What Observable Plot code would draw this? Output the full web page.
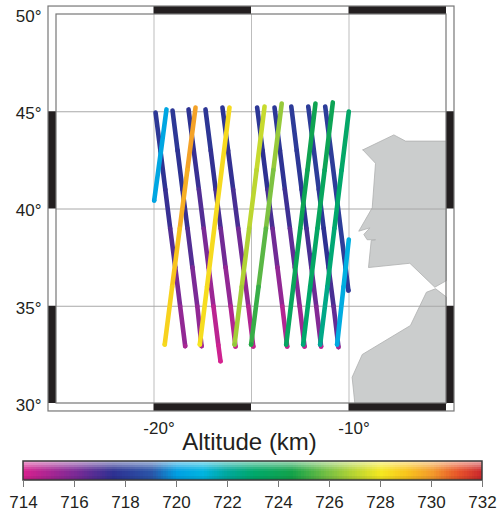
<!DOCTYPE html>
<html><head><meta charset="utf-8">
<script src="https://cdn.jsdelivr.net/npm/d3@7"></script>
<script src="https://cdn.jsdelivr.net/npm/@observablehq/plot@0.6"></script>
<style>html,body{margin:0;padding:0;background:#fff}svg{display:block}</style>
</head><body><div id="chart"></div>
<script>
const colorDomain = [714,716,717.5,719,720,721,722,723,724.5,726,727,728,729,730,731,732];
const colorRange = ["#d6218f","#7b2a96","#2e3192","#2a55a8","#00a0e3","#00b4e0","#00a89a","#00a86b","#13a24a","#7ec242","#bcd631","#f5e820","#f8c41d","#f39a2b","#e8542a","#c9252d"];

const descending = [
 {lon:[-19.92,-19.67,-19.42,-19.17,-18.91,-18.66,-18.40],lat:[44.96,43,41,39,37,35,32.95],alt:[717.8,717.6,717.3,716.8,716,715.5,715]},
 {lon:[-19.05,-18.79,-18.54,-18.28,-18.03,-17.78,-17.56],lat:[45.06,43,41,39,37,35,32.95],alt:[717.8,717.6,717.3,716.8,716,715.5,715]},
 {lon:[-18.23,-17.96,-17.70,-17.45,-17.20,-16.95,-16.70,-16.59],lat:[45.12,43,41,39,37,35,33,32.17],alt:[717.6,717.3,716.8,716,715.3,714.6,714.2,714]},
 {lon:[-17.36,-17.09,-16.84,-16.58,-16.33,-16.07,-15.82],lat:[45.12,43,41,39,37,35,32.93],alt:[717.7,717.4,717,716.2,715.5,714.8,714.3]},
 {lon:[-16.49,-16.20,-15.94,-15.68,-15.42,-15.16,-14.91],lat:[45.22,43,41,39,37,35,32.93],alt:[717.7,717.4,717,716.2,715.5,714.8,714.3]},
 {lon:[-14.71,-14.43,-14.18,-13.92,-13.67,-13.42,-13.17],lat:[45.22,43,41,39,37,35,32.93],alt:[717.8,717.5,717,716.2,715.5,714.8,714.4]},
 {lon:[-13.82,-13.54,-13.29,-13.03,-12.78,-12.53,-12.28],lat:[45.22,43,41,39,37,35,32.93],alt:[717.8,717.6,717.2,716.5,715.8,715.2,714.5]},
 {lon:[-12.96,-12.68,-12.43,-12.18,-11.93,-11.68,-11.43],lat:[45.27,43,41,39,37,35,32.93],alt:[717.9,717.8,717.5,717,716.3,715.8,714.5]},
 {lon:[-12.09,-11.80,-11.55,-11.30,-11.05,-10.79,-10.54],lat:[45.27,43,41,39,37,35,32.9],alt:[718,718,717.8,717.5,717,716.5,715]},
 {lon:[-11.22,-10.93,-10.68,-10.43,-10.18,-10.03],lat:[45.27,43,41,39,37,35.81],alt:[718,718,718,718,717.9,717.8]}
];
const ascending = [
 {lon:[-19.36,-19.64,-19.99],lat:[45.12,43,40.44],alt:[720.3,720.3,720.2]},
 {lon:[-17.87,-18.29,-18.68,-19.07,-19.45],lat:[45.22,42,39,36,33.03],alt:[729.8,729.5,729,728.6,728.4]},
 {lon:[-16.13,-16.53,-16.91,-17.28,-17.65],lat:[45.22,42,39,36,33.03],alt:[728.4,728.4,728.4,728.3,728]},
 {lon:[-14.33,-14.74,-15.12,-15.50,-15.87],lat:[45.27,42,39,36,33.03],alt:[727.2,727,726.8,726.6,726.3]},
 {lon:[-13.45,-13.88,-14.26,-14.64,-15.02],lat:[45.42,42,39,36,33.03],alt:[726.4,726,725.5,725,724.7]},
 {lon:[-11.72,-12.13,-12.50,-12.86,-13.22],lat:[45.42,42,39,36,33.03],alt:[724.2,724,723.8,723.6,723.4]},
 {lon:[-10.83,-11.25,-11.62,-11.99,-12.35],lat:[45.48,42,39,36,33.03],alt:[724,723.6,723.3,723,722.7]},
 {lon:[-10.01,-10.38,-10.75,-11.11,-11.48],lat:[45.01,42,39,36,33.03],alt:[723.2,723,722.8,722.4,722]},
 {lon:[-10.01,-10.28,-10.61],lat:[38.43,36,33.03],alt:[720.8,720.6,720.5]}
];
const iberia = [[-9.29,43.04],[-7.70,43.81],[-7.10,43.49],[-5,43.49],[-5,36.32],[-5.60,35.98],[-6.88,37.21],[-9.0,36.99],[-8.86,38.38],[-8.64,38.42],[-9.07,38.42],[-9.24,38.69],[-8.93,39.03],[-9.50,38.86],[-8.81,40.06],[-8.64,42.35]];
const africa = [[-9.70,30],[-9.84,31.35],[-9.32,32.52],[-6.85,34.01],[-6.03,35.72],[-5.56,35.9],[-5,35.47],[-5,30]];

const gridLons = [-20,-15,-10];
const gridLats = [45,40,35];
const latLabels = [50,45,40,35,30];
const lonLabels = [-20,-10];
const darkLonSpans = [[-20,-15],[-10,-5]];
const darkLatSpans = [[45,40],[35,30]];
const altTicks = [714,716,718,720,722,724,726,728,730,732];
const strip = 0.41;

const toPoints = t => t.lon.map((lon,i)=>({lon,lat:t.lat[i],alt:t.alt[i]}));
const colorOpt = {type:"linear",domain:colorDomain,range:colorRange};
const ink = "#231f20";
const font = {fontFamily:"'Liberation Sans',Arial,sans-serif",background:"#fff"};

const trackMark = (t) => Plot.line(toPoints(t),{x:"lon",y:"lat",z:null,stroke:"alt",strokeWidth:4.6,strokeLinecap:"round",strokeLinejoin:"round"});
const polyMark = (p) => Plot.line([...p,p[0]],{x:d=>d[0],y:d=>d[1],fill:"#cbcdcd",stroke:"#aeb0b0",strokeWidth:0.8});

const map = Plot.plot({
  width:500,height:456,marginLeft:56,marginRight:54,marginTop:14,marginBottom:53,
  x:{domain:[-25,-5],axis:null},
  y:{domain:[30,50],axis:null},
  color:colorOpt,
  style:font,
  marks:[
    polyMark(iberia),polyMark(africa),
    Plot.ruleX(gridLons,{stroke:"#bdbdbd",strokeWidth:1}),
    Plot.ruleY(gridLats,{stroke:"#a8a8a8",strokeWidth:1}),
    Plot.rect(darkLonSpans,{x1:d=>d[0],x2:d=>d[1],y1:50,y2:50+strip,fill:ink}),
    Plot.rect(darkLonSpans,{x1:d=>d[0],x2:d=>d[1],y1:30-strip,y2:30,fill:ink}),
    Plot.rect(darkLatSpans,{y1:d=>d[0],y2:d=>d[1],x1:-25-strip,x2:-25,fill:ink}),
    Plot.rect(darkLatSpans,{y1:d=>d[0],y2:d=>d[1],x1:-5,x2:-5+strip,fill:ink}),
    Plot.rect([0],{x1:-25,x2:-5,y1:30,y2:50,stroke:"#777",strokeWidth:1.2,fill:"none"}),
    Plot.rect([0],{x1:-25-strip,x2:-5+strip,y1:30-strip,y2:50+strip,stroke:"#777",strokeWidth:1.2,fill:"none"}),
    ...descending.map(trackMark),
    ...ascending.map(trackMark),
    Plot.text(latLabels,{x:-25,y:d=>d,dx:-15,dy:2,text:d=>d+"°",textAnchor:"end",fontSize:17,fill:ink}),
    Plot.text(lonLabels,{x:d=>d,y:30,dy:25,dx:5,text:d=>d+"°",fontSize:17,fill:ink}),
    Plot.text(["Altitude (km)"],{x:-15,y:30,dx:-2,dy:39,text:d=>d,fontSize:24,fill:ink})
  ]
});

const altSteps = d3.range(714,732,0.1);
const lightRows = [[0.9,1,0.55],[0.8,0.9,0.45],[0.7,0.8,0.32],[0.6,0.7,0.18],[0.5,0.6,0.07]];
const darkRows = [[0,0.1,0.14],[0.1,0.2,0.06]];
const bar = Plot.plot({
  width:500,height:56,marginLeft:23,marginRight:18,marginTop:5,marginBottom:32,
  x:{domain:[714,732],axis:null},
  y:{domain:[0,1],axis:null},
  color:colorOpt,
  style:font,
  marks:[
    Plot.rect(altSteps,{x1:d=>d,x2:d=>Math.min(732,d+0.12),y1:0,y2:1,fill:d=>d,shapeRendering:"crispEdges"}),
    Plot.rect(lightRows,{x1:714,x2:732,y1:d=>d[0],y2:d=>d[1],fill:"#fff",fillOpacity:d=>d[2],shapeRendering:"crispEdges"}),
    Plot.rect(darkRows,{x1:714,x2:732,y1:d=>d[0],y2:d=>d[1],fill:"#000",fillOpacity:d=>d[2],shapeRendering:"crispEdges"}),
    Plot.rect([0],{x1:714,x2:732,y1:0,y2:1,stroke:"#3a3a3a",strokeWidth:1.5,fill:"none"}),
    Plot.axisX(altTicks,{anchor:"bottom",tickSize:7,tickPadding:8,fontSize:17,stroke:"#777",fill:ink,tickFormat:d=>String(d),label:null})
  ]
});
const root = document.getElementById("chart");
root.append(map,bar);
</script></body></html>
